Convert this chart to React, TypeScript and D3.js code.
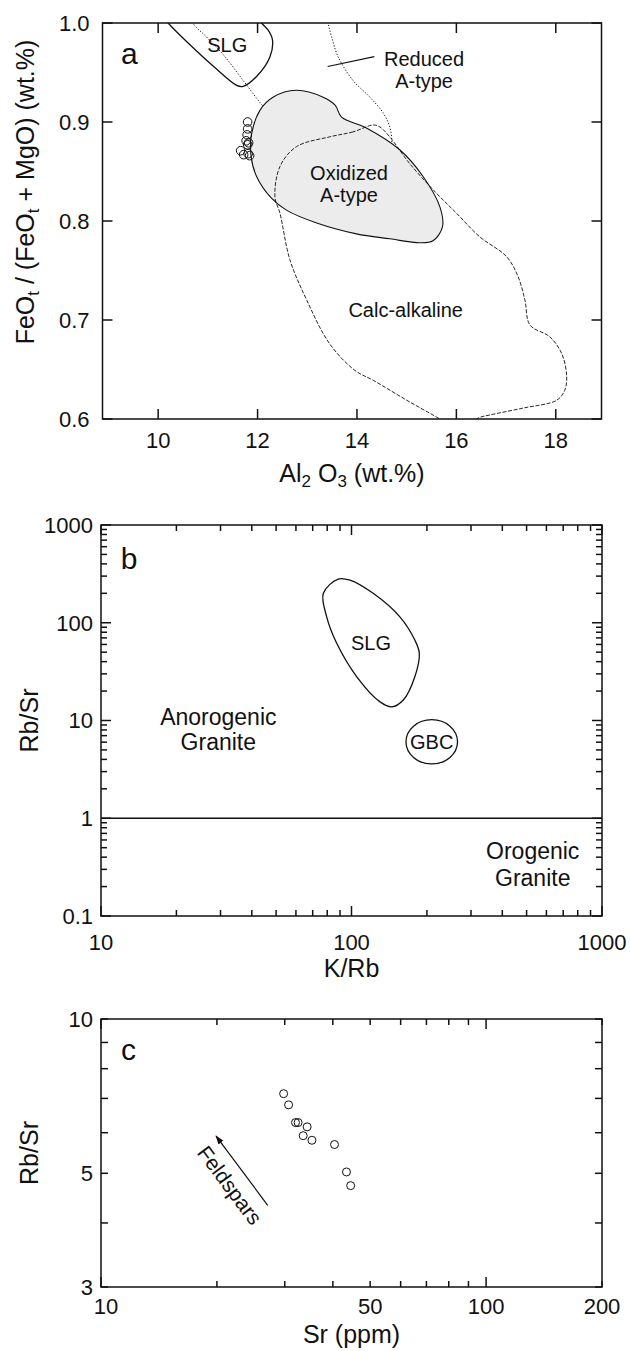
import React from "react";
import * as d3 from "d3";

const FONT = "'Liberation Sans', Arial, Helvetica, sans-serif";

// ---- panel a: Al2O3 vs FeOt/(FeOt+MgO)
const alTicks = [10, 12, 14, 16, 18];
const feTicks = [0.6, 0.7, 0.8, 0.9, 1.0];
const sampleAl = [11.8, 11.8, 11.79, 11.77, 11.82, 11.8, 11.66, 11.72, 11.81, 11.84];
const sampleFe = [0.9, 0.893, 0.887, 0.881, 0.879, 0.877, 0.871, 0.867, 0.868, 0.866];

const slgA: [number, number][] = [
  [9.99, 1.013], [10.2, 1.0], [10.64, 0.978], [11.14, 0.955], [11.58, 0.937], [11.71, 0.936],
  [11.98, 0.946], [12.25, 0.966], [12.3, 0.983], [12.21, 0.993], [12.08, 1.0], [11.95, 1.009],
];
const reducedLeft: [number, number][] = [
  [10.64, 1.013], [10.7, 1.0], [10.97, 0.986], [11.31, 0.968], [11.71, 0.942], [12.11, 0.916], [12.35, 0.904],
];
const reducedRight: [number, number][] = [
  [13.39, 1.013], [13.42, 1.0], [13.49, 0.986], [13.62, 0.966], [13.92, 0.942], [14.26, 0.925],
  [14.53, 0.909], [14.66, 0.895], [14.7, 0.883], [14.7, 0.879],
];
const oxidized: [number, number][] = [
  [12.78, 0.932], [13.32, 0.925], [13.56, 0.917], [13.69, 0.905], [14.19, 0.894], [14.86, 0.872],
  [15.33, 0.845], [15.67, 0.814], [15.72, 0.794], [15.53, 0.78], [15.27, 0.778], [14.66, 0.782],
  [13.99, 0.787], [13.19, 0.798], [12.58, 0.811], [12.28, 0.823], [11.98, 0.845], [11.87, 0.865],
  [11.88, 0.888], [12.05, 0.912], [12.31, 0.925],
];
const calcAlkaline: [number, number][] = [
  [14.33, 0.897], [13.92, 0.89], [13.45, 0.885], [12.78, 0.875], [12.45, 0.855], [12.35, 0.824],
  [12.45, 0.808], [12.65, 0.761], [12.99, 0.72], [13.45, 0.676], [13.96, 0.649], [14.33, 0.639],
  [15.0, 0.619], [15.6, 0.602], [15.87, 0.594], [16.27, 0.594], [16.44, 0.601], [16.67, 0.604],
  [17.34, 0.611], [18.02, 0.619], [18.18, 0.629], [18.22, 0.643], [18.12, 0.666], [17.88, 0.683],
  [17.48, 0.695], [17.38, 0.72], [17.24, 0.744], [17.01, 0.764], [16.47, 0.784], [16.0, 0.808],
  [15.6, 0.828], [15.06, 0.858], [14.66, 0.885], [14.46, 0.895],
];
const reducedLeader: [number, number][] = [[13.41, 0.956], [14.35, 0.966]];

// ---- panel b: K/Rb vs Rb/Sr
const kRbLabels = [10, 100, 1000];
const rbSrLabels = [0.1, 1, 10, 100, 1000];
const slgB: [number, number][] = [
  [88.5, 280], [98.6, 273], [122, 200], [156, 115], [179, 66.5], [186.5, 48.6], [179, 28],
  [161, 16.2], [145, 13.8], [130, 15.5], [105, 28], [87.3, 61.6], [79.6, 115], [77.2, 200],
];
const gbcX = [165, 265];
const gbcY = [3.6, 10.2];
const boundaryRbSr = 1;

// ---- panel c: Sr vs Rb/Sr
const srLabels = [10, 50, 100, 200];
const rbSrCLabels = [3, 5, 10];
const sampleSr = [29.8, 30.7, 32.0, 32.5, 34.3, 33.5, 35.3, 40.4, 43.4, 44.5];
const sampleRbSr = [7.15, 6.8, 6.28, 6.28, 6.16, 5.92, 5.8, 5.69, 5.03, 4.73];
const feldsparArrow: [number, number][] = [[27.1, 4.33], [19.9, 5.91]];

const A = { l: 102.5, r: 601.5, t: 23, b: 419 };
const B = { l: 101, r: 602, t: 525, b: 916 };
const C = { l: 101, r: 602, t: 1019, b: 1287 };

const xa = d3.scaleLinear().domain([8.88, 18.92]).range([A.l, A.r]);
const ya = d3.scaleLinear().domain([0.6, 1.0]).range([A.b, A.t]);
const xb = d3.scaleLog().domain([10, 1000]).range([B.l, B.r]);
const yb = d3.scaleLog().domain([0.1, 1000]).range([B.b, B.t]);
const xc = d3.scaleLog().domain([10, 200]).range([C.l, C.r]);
const yc = d3.scaleLog().domain([3, 10]).range([C.b, C.t]);

const stroke = "#111";

function Frame({ box }: { box: typeof A }) {
  return (
    <rect x={box.l} y={box.t} width={box.r - box.l} height={box.b - box.t} fill="none" stroke={stroke} strokeWidth={1.5} />
  );
}

function XTicks({ box, pos }: { box: typeof A; pos: { v: number; len: number }[] }) {
  return (
    <g stroke={stroke} strokeWidth={1.5}>
      {pos.map((p, i) => (
        <g key={i}>
          <line x1={p.v} x2={p.v} y1={box.b} y2={box.b - p.len} />
          <line x1={p.v} x2={p.v} y1={box.t} y2={box.t + p.len} />
        </g>
      ))}
    </g>
  );
}

function YTicks({ box, pos }: { box: typeof A; pos: { v: number; len: number }[] }) {
  return (
    <g stroke={stroke} strokeWidth={1.5}>
      {pos.map((p, i) => (
        <g key={i}>
          <line y1={p.v} y2={p.v} x1={box.l} x2={box.l + p.len} />
          <line y1={p.v} y2={p.v} x1={box.r} x2={box.r - p.len} />
        </g>
      ))}
    </g>
  );
}

const isDecade = (v: number) => Math.abs(Math.log10(v) - Math.round(Math.log10(v))) < 1e-9;

export default function App() {
  const openA = d3.line<[number, number]>().x((d) => xa(d[0])).y((d) => ya(d[1])).curve(d3.curveCatmullRom.alpha(0.5));
  const closedA = d3.line<[number, number]>().x((d) => xa(d[0])).y((d) => ya(d[1])).curve(d3.curveCatmullRomClosed.alpha(0.5));
  const closedB = d3.line<[number, number]>().x((d) => xb(d[0])).y((d) => yb(d[1])).curve(d3.curveCatmullRomClosed.alpha(0.5));

  const aX = alTicks.map((v) => ({ v: xa(v), len: 10 }));
  const aY = feTicks.map((v) => ({ v: ya(v), len: 10 }));
  const bX = xb.ticks().map((v) => ({ v: xb(v), len: isDecade(v) ? 10 : 6 }));
  const bY = yb.ticks().map((v) => ({ v: yb(v), len: isDecade(v) ? 10 : 6 }));
  const cX = xc.ticks().map((v) => ({ v: xc(v), len: isDecade(v) ? 10 : 6 }));
  const cY = yc.ticks().map((v) => ({ v: yc(v), len: 7 }));

  const tick = { fontSize: 22, fill: "#111" } as const;
  const title = { fontSize: 25, fill: "#111" } as const;
  const region = { fontSize: 20, fill: "#111", textAnchor: "middle" } as const;
  const big = { fontSize: 23, fill: "#111", textAnchor: "middle" } as const;

  const [a0, a1] = feldsparArrow;
  const angle = (Math.atan2(yc(a0[1]) - yc(a1[1]), xc(a0[0]) - xc(a1[0])) * 180) / Math.PI;

  return (
    <svg
      width={630}
      height={1351}
      style={{ position: "absolute", left: 0, top: 0, background: "#fff" }}
      fontFamily={FONT}
    >
      <defs>
        <clipPath id="clipA">
          <rect x={A.l} y={A.t} width={A.r - A.l} height={A.b - A.t} />
        </clipPath>
        <marker id="arrow" viewBox="0 0 10 10" refX="9" refY="5" markerWidth="9" markerHeight="9" orient="auto" markerUnits="userSpaceOnUse">
          <path d="M0,1.5 L10,5 L0,8.5 Z" fill={stroke} />
        </marker>
      </defs>

      {/* ---------- panel a ---------- */}
      <g clipPath="url(#clipA)" fill="none">
        <path d={openA(reducedLeft) || ""} stroke={stroke} strokeWidth={1} strokeDasharray="1.2,1.8" />
        <path d={openA(reducedRight) || ""} stroke={stroke} strokeWidth={1} strokeDasharray="1.2,1.8" />
        <path d={closedA(oxidized) || ""} fill="#ececec" stroke={stroke} strokeWidth={1.1} />
        <path d={closedA(calcAlkaline) || ""} stroke={stroke} strokeWidth={0.9} strokeDasharray="4,1.6" />
        <path d={openA(slgA) || ""} stroke={stroke} strokeWidth={1.3} />
        <line x1={xa(reducedLeader[0][0])} y1={ya(reducedLeader[0][1])} x2={xa(reducedLeader[1][0])} y2={ya(reducedLeader[1][1])} stroke={stroke} strokeWidth={1.1} />
      </g>
      {sampleAl.map((v, i) => (
        <circle key={i} cx={xa(v)} cy={ya(sampleFe[i])} r={4.3} fill="none" stroke={stroke} strokeWidth={1} />
      ))}
      <Frame box={A} />
      <XTicks box={A} pos={aX} />
      <YTicks box={A} pos={aY} />
      {alTicks.map((v) => (
        <text key={v} x={xa(v)} y={A.b + 29} textAnchor="middle" {...tick}>{v}</text>
      ))}
      {feTicks.map((v) => (
        <text key={v} x={A.l - 13} y={ya(v)} dy="0.36em" textAnchor="end" {...tick}>{v.toFixed(1)}</text>
      ))}
      <text x={(A.l + A.r) / 2} y={482} textAnchor="middle" {...title}>
        Al<tspan fontSize={17} dy={5}>2</tspan>
        <tspan dy={-5}> O</tspan>
        <tspan fontSize={17} dy={5}>3</tspan>
        <tspan dy={-5}> (wt.%)</tspan>
      </text>
      <text transform="translate(34,192) rotate(-90)" textAnchor="middle" {...title}>
        FeO<tspan fontSize={17} dy={5}>t</tspan>
        <tspan dy={-5}> / (FeO</tspan>
        <tspan fontSize={17} dy={5}>t</tspan>
        <tspan dy={-5}> + MgO) (wt.%)</tspan>
      </text>
      <text x={xa(9.25)} y={ya(0.9585)} fontSize={30} fill="#111">a</text>
      <text x={xa(11.39)} y={ya(0.9706)} {...region}>SLG</text>
      <text x={xa(15.35)} y={ya(0.9568)} {...region}>Reduced</text>
      <text x={xa(15.35)} y={ya(0.9347)} {...region}>A-type</text>
      <text x={xa(13.84)} y={ya(0.8413)} {...region}>Oxidized</text>
      <text x={xa(13.84)} y={ya(0.8191)} {...region}>A-type</text>
      <text x={xa(14.98)} y={ya(0.7026)} {...region}>Calc-alkaline</text>

      {/* ---------- panel b ---------- */}
      <line x1={B.l} x2={B.r} y1={yb(boundaryRbSr)} y2={yb(boundaryRbSr)} stroke={stroke} strokeWidth={1.3} />
      <path d={closedB(slgB) || ""} fill="none" stroke={stroke} strokeWidth={1.3} />
      <ellipse
        cx={(xb(gbcX[0]) + xb(gbcX[1])) / 2}
        cy={(yb(gbcY[0]) + yb(gbcY[1])) / 2}
        rx={(xb(gbcX[1]) - xb(gbcX[0])) / 2}
        ry={(yb(gbcY[0]) - yb(gbcY[1])) / 2}
        fill="none"
        stroke={stroke}
        strokeWidth={1.3}
      />
      <Frame box={B} />
      <XTicks box={B} pos={bX} />
      <YTicks box={B} pos={bY} />
      {kRbLabels.map((v) => (
        <text key={v} x={xb(v)} y={B.b + 34} textAnchor="middle" {...tick}>{v}</text>
      ))}
      {rbSrLabels.map((v) => (
        <text key={v} x={B.l - 8} y={yb(v)} dy="0.36em" textAnchor="end" {...tick}>{v}</text>
      ))}
      <text x={(B.l + B.r) / 2} y={977} textAnchor="middle" {...title}>K/Rb</text>
      <text transform={`translate(38,${(B.t + B.b) / 2}) rotate(-90)`} textAnchor="middle" {...title}>Rb/Sr</text>
      <text x={xb(12)} y={yb(354)} fontSize={30} fill="#111">b</text>
      <text x={xb(119.6)} y={yb(52.6)} {...region}>SLG</text>
      <text x={xb(209)} y={yb(5.16)} {...region}>GBC</text>
      <text x={xb(29.4)} y={yb(9.1)} {...big}>Anorogenic</text>
      <text x={xb(29.4)} y={yb(5.0)} {...big}>Granite</text>
      <text x={xb(529)} y={yb(0.38)} {...big}>Orogenic</text>
      <text x={xb(529)} y={yb(0.205)} {...big}>Granite</text>

      {/* ---------- panel c ---------- */}
      <Frame box={C} />
      <XTicks box={C} pos={cX} />
      <YTicks box={C} pos={cY} />
      {sampleSr.map((v, i) => (
        <circle key={i} cx={xc(v)} cy={yc(sampleRbSr[i])} r={4} fill="none" stroke={stroke} strokeWidth={1} />
      ))}
      <line
        x1={xc(a0[0])}
        y1={yc(a0[1])}
        x2={xc(a1[0])}
        y2={yc(a1[1])}
        stroke={stroke}
        strokeWidth={1.2}
        markerEnd="url(#arrow)"
      />
      <text
        transform={`translate(${xc(21.6)},${yc(4.74)}) rotate(${angle})`}
        textAnchor="middle"
        dy="0.35em"
        fontSize={21}
        fill="#111"
      >
        Feldspars
      </text>
      {srLabels.map((v) => (
        <text key={v} x={xc(v) + (v === 10 ? 5 : 0)} y={C.b + 27} textAnchor="middle" {...tick}>{v}</text>
      ))}
      {rbSrCLabels.map((v) => (
        <text key={v} x={C.l - 8} y={yc(v)} dy="0.36em" textAnchor="end" {...tick}>{v}</text>
      ))}
      <text x={(C.l + C.r) / 2} y={1343} textAnchor="middle" {...title}>Sr (ppm)</text>
      <text transform={`translate(38,${(C.t + C.b) / 2}) rotate(-90)`} textAnchor="middle" {...title}>Rb/Sr</text>
      <text x={xc(11.27)} y={yc(8.325)} fontSize={30} fill="#111">c</text>
    </svg>
  );
}
